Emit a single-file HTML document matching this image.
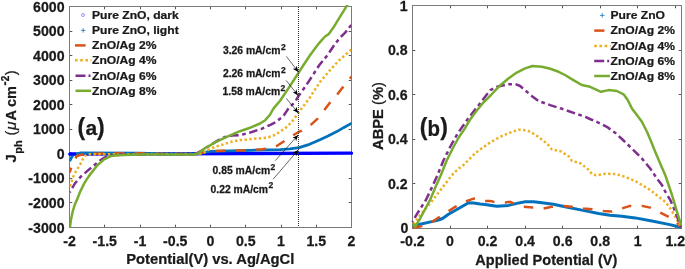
<!DOCTYPE html>
<html><head><meta charset="utf-8"><title>chart</title><style>
html,body{margin:0;padding:0;background:#fff;width:685px;height:269px;overflow:hidden;}
svg{display:block;will-change:transform;filter:blur(0.35px);}
text{font-family:"Liberation Sans", sans-serif;font-weight:bold;fill:#1a1a1a;stroke:#1a1a1a;stroke-width:0.25px;}
.tk{font-size:14px;}
.lab{font-size:14.5px;}
.lg{font-size:11.4px;}
.an{font-size:10px;}
.pl{font-size:23px;}
</style></head><body>
<svg width="685" height="269" viewBox="0 0 685 269">
<rect width="685" height="269" fill="#fff"/>
<defs>
<clipPath id="cl"><rect x="69.5" y="5.0" width="282.0" height="222.5"/></clipPath>
<clipPath id="cr"><rect x="411.5" y="5.5" width="270.5" height="224.0"/></clipPath>
<marker id="ah" markerUnits="userSpaceOnUse" viewBox="0 0 6 5" refX="6" refY="2.5" markerWidth="6" markerHeight="5" orient="auto"><path d="M0,0 L6,2.5 L0,5 L1.6,2.5 z" fill="#000"/></marker>
</defs>
<line x1="69.5" y1="227.5" x2="69.5" y2="224.7" stroke="#555" stroke-width="1"/>
<line x1="69.5" y1="6.5" x2="69.5" y2="9.3" stroke="#555" stroke-width="1"/>
<text class="tk" transform="translate(69.50,246.20) scale(1.012,1)" text-anchor="middle">-2</text>
<line x1="104.5" y1="227.5" x2="104.5" y2="224.7" stroke="#555" stroke-width="1"/>
<line x1="104.5" y1="6.5" x2="104.5" y2="9.3" stroke="#555" stroke-width="1"/>
<text class="tk" transform="translate(104.75,246.20) scale(1.012,1)" text-anchor="middle">-1.5</text>
<line x1="140.5" y1="227.5" x2="140.5" y2="224.7" stroke="#555" stroke-width="1"/>
<line x1="140.5" y1="6.5" x2="140.5" y2="9.3" stroke="#555" stroke-width="1"/>
<text class="tk" transform="translate(140.00,246.20) scale(1.012,1)" text-anchor="middle">-1</text>
<line x1="175.5" y1="227.5" x2="175.5" y2="224.7" stroke="#555" stroke-width="1"/>
<line x1="175.5" y1="6.5" x2="175.5" y2="9.3" stroke="#555" stroke-width="1"/>
<text class="tk" transform="translate(175.25,246.20) scale(1.012,1)" text-anchor="middle">-0.5</text>
<line x1="210.5" y1="227.5" x2="210.5" y2="224.7" stroke="#555" stroke-width="1"/>
<line x1="210.5" y1="6.5" x2="210.5" y2="9.3" stroke="#555" stroke-width="1"/>
<text class="tk" transform="translate(210.50,246.20) scale(1.012,1)" text-anchor="middle">0</text>
<line x1="245.5" y1="227.5" x2="245.5" y2="224.7" stroke="#555" stroke-width="1"/>
<line x1="245.5" y1="6.5" x2="245.5" y2="9.3" stroke="#555" stroke-width="1"/>
<text class="tk" transform="translate(245.75,246.20) scale(1.012,1)" text-anchor="middle">0.5</text>
<line x1="281.5" y1="227.5" x2="281.5" y2="224.7" stroke="#555" stroke-width="1"/>
<line x1="281.5" y1="6.5" x2="281.5" y2="9.3" stroke="#555" stroke-width="1"/>
<text class="tk" transform="translate(281.00,246.20) scale(1.012,1)" text-anchor="middle">1</text>
<line x1="316.5" y1="227.5" x2="316.5" y2="224.7" stroke="#555" stroke-width="1"/>
<line x1="316.5" y1="6.5" x2="316.5" y2="9.3" stroke="#555" stroke-width="1"/>
<text class="tk" transform="translate(316.25,246.20) scale(1.012,1)" text-anchor="middle">1.5</text>
<line x1="351.5" y1="227.5" x2="351.5" y2="224.7" stroke="#555" stroke-width="1"/>
<line x1="351.5" y1="6.5" x2="351.5" y2="9.3" stroke="#555" stroke-width="1"/>
<text class="tk" transform="translate(351.50,246.20) scale(1.012,1)" text-anchor="middle">2</text>
<line x1="69.5" y1="227.5" x2="72.3" y2="227.5" stroke="#555" stroke-width="1"/>
<line x1="351.5" y1="227.5" x2="348.7" y2="227.5" stroke="#555" stroke-width="1"/>
<text class="tk" transform="translate(64.60,232.50) scale(1.012,1)" text-anchor="end">-3000</text>
<line x1="69.5" y1="202.5" x2="72.3" y2="202.5" stroke="#555" stroke-width="1"/>
<line x1="351.5" y1="202.5" x2="348.7" y2="202.5" stroke="#555" stroke-width="1"/>
<text class="tk" transform="translate(64.60,207.94) scale(1.012,1)" text-anchor="end">-2000</text>
<line x1="69.5" y1="178.5" x2="72.3" y2="178.5" stroke="#555" stroke-width="1"/>
<line x1="351.5" y1="178.5" x2="348.7" y2="178.5" stroke="#555" stroke-width="1"/>
<text class="tk" transform="translate(64.60,183.39) scale(1.012,1)" text-anchor="end">-1000</text>
<line x1="69.5" y1="153.5" x2="72.3" y2="153.5" stroke="#555" stroke-width="1"/>
<line x1="351.5" y1="153.5" x2="348.7" y2="153.5" stroke="#555" stroke-width="1"/>
<text class="tk" transform="translate(64.60,158.83) scale(1.012,1)" text-anchor="end">0</text>
<line x1="69.5" y1="129.5" x2="72.3" y2="129.5" stroke="#555" stroke-width="1"/>
<line x1="351.5" y1="129.5" x2="348.7" y2="129.5" stroke="#555" stroke-width="1"/>
<text class="tk" transform="translate(64.60,134.28) scale(1.012,1)" text-anchor="end">1000</text>
<line x1="69.5" y1="104.5" x2="72.3" y2="104.5" stroke="#555" stroke-width="1"/>
<line x1="351.5" y1="104.5" x2="348.7" y2="104.5" stroke="#555" stroke-width="1"/>
<text class="tk" transform="translate(64.60,109.72) scale(1.012,1)" text-anchor="end">2000</text>
<line x1="69.5" y1="80.5" x2="72.3" y2="80.5" stroke="#555" stroke-width="1"/>
<line x1="351.5" y1="80.5" x2="348.7" y2="80.5" stroke="#555" stroke-width="1"/>
<text class="tk" transform="translate(64.60,85.17) scale(1.012,1)" text-anchor="end">3000</text>
<line x1="69.5" y1="55.5" x2="72.3" y2="55.5" stroke="#555" stroke-width="1"/>
<line x1="351.5" y1="55.5" x2="348.7" y2="55.5" stroke="#555" stroke-width="1"/>
<text class="tk" transform="translate(64.60,60.61) scale(1.012,1)" text-anchor="end">4000</text>
<line x1="69.5" y1="31.5" x2="72.3" y2="31.5" stroke="#555" stroke-width="1"/>
<line x1="351.5" y1="31.5" x2="348.7" y2="31.5" stroke="#555" stroke-width="1"/>
<text class="tk" transform="translate(64.60,36.06) scale(1.012,1)" text-anchor="end">5000</text>
<line x1="69.5" y1="6.5" x2="72.3" y2="6.5" stroke="#555" stroke-width="1"/>
<line x1="351.5" y1="6.5" x2="348.7" y2="6.5" stroke="#555" stroke-width="1"/>
<text class="tk" transform="translate(64.60,11.50) scale(1.012,1)" text-anchor="end">6000</text>
<rect x="69.5" y="6.5" width="282.0" height="221.0" fill="none" stroke="#7a7a7a" stroke-width="1"/>
<text class="lab" transform="translate(210.30,264.40) scale(1.017,1)" text-anchor="middle">Potential(V) vs. Ag/AgCl</text>
<text transform="translate(16.20,0) rotate(-90)" x="-162.40" y="0.00" style="font-size:15.00px;">J</text>
<text transform="translate(16.20,0) rotate(-90)" x="-153.80" y="5.40" style="font-size:11.00px;">ph</text>
<text transform="translate(16.20,0) rotate(-90)" x="-135.60" y="0.00" style="font-size:14.50px;font-weight:normal">(</text>
<text transform="translate(16.20,0) rotate(-90)" x="-130.00" y="0.00" style="font-size:15.50px;font-weight:normal;font-style:italic">&#956;</text>
<text transform="translate(16.20,0) rotate(-90)" x="-120.50" y="0.00" style="font-size:14.50px;">A</text>
<text transform="translate(16.20,0) rotate(-90)" x="-107.00" y="0.00" style="font-size:14.50px;">cm</text>
<text transform="translate(16.20,0) rotate(-90)" x="-85.60" y="-7.00" style="font-size:12.00px;">-</text>
<text transform="translate(16.20,0) rotate(-90)" x="-81.30" y="-7.00" style="font-size:10.00px;">2</text>
<text transform="translate(16.20,0) rotate(-90)" x="-75.20" y="0.00" style="font-size:14.50px;font-weight:normal">)</text>
<g clip-path="url(#cl)" fill="none" stroke-linejoin="round">
</g>
<polyline points="69.8,154.1 150.0,153.8 250.0,153.5 351.5,153.2" fill="none" stroke="#0000FF" stroke-width="3.3" stroke-linecap="round"/>
<g clip-path="url(#cl)" fill="none" stroke-linejoin="round">
<polyline points="69.7,161.2 71.5,157.5 73.5,154.5 80.0,153.0 140.0,153.2 165.0,154.0 195.0,154.0 203.0,152.6 210.0,151.4 250.0,150.3 280.0,149.6 290.0,148.8 299.0,147.6 309.5,144.3 320.0,139.7 328.0,136.0 336.8,131.6 344.0,127.4 352.7,122.6" stroke="#0072BD" stroke-width="2.8"/>
</g>
<path d="M68.6,154 C68.6,152.4 70.5,152.3 72.5,152.4 L76,152.6 L76,155.2 L72.5,155.5 C70.5,155.6 68.6,155.5 68.6,154 z" fill="#0000FF"/>
<g clip-path="url(#cl)" fill="none" stroke-linejoin="round">
<polyline points="69.5,172.6 72.5,164.3 76.7,156.0 85.1,153.8 140.0,153.2 165.0,154.0 195.0,154.0 203.0,152.4 212.0,151.0 245.0,150.4 262.0,149.3 270.0,148.3 276.3,146.3 284.7,140.8 293.2,135.2 298.2,132.2 301.7,130.6 310.8,124.8 317.9,118.3 324.3,110.0 330.1,102.5 336.8,95.1 342.6,87.6 350.2,78.4 352.5,75.6" stroke="#D95319" stroke-width="2.5" stroke-dasharray="10 10.3" stroke-dashoffset="4.8"/>
<polyline points="70.0,186.5 73.2,176.8 75.7,171.7 79.9,165.0 82.4,160.0 84.9,155.8 88.0,154.3 195.0,154.0 201.8,153.6 208.9,149.6 216.1,146.5 224.2,144.2 232.4,141.5 240.0,140.1 256.7,138.5 262.6,138.2 267.8,137.4 273.0,135.8 277.6,133.2 281.5,130.6 285.4,128.0 289.3,124.4 292.6,120.9 295.5,116.8 298.3,113.0 304.8,104.3 309.2,98.5 320.1,81.8 330.1,70.1 338.5,60.9 345.2,55.0 352.5,48.5" stroke="#EDB120" stroke-width="2.5" stroke-dasharray="2.4 2.4"/>
<polyline points="69.8,192.5 74.9,183.5 80.7,176.8 87.4,170.9 93.3,165.9 100.0,160.5 104.1,157.7 110.0,155.9 120.0,154.6 195.0,154.2 201.8,150.5 210.1,145.2 218.5,140.1 225.2,137.0 232.0,135.6 240.0,135.1 248.4,133.1 262.0,128.7 270.4,124.8 275.6,122.2 281.5,117.6 284.1,115.0 288.5,108.4 295.2,101.7 298.3,96.3 305.2,86.8 311.8,76.7 319.4,65.0 327.6,55.0 334.3,45.0 340.1,37.6 345.2,32.6 349.8,26.8 352.5,23.5" stroke="#7E2F8E" stroke-width="2.5" stroke-dasharray="8.7 3.5 3.7 3.6" stroke-dashoffset="-4.9"/>
<polyline points="69.9,227.5 71.0,219.5 72.7,211.5 74.7,204.8 77.2,199.2 80.0,192.0 84.1,183.6 87.3,178.4 90.8,173.6 97.4,165.3 104.1,159.4 110.8,156.1 115.3,155.6 123.6,154.9 140.0,154.6 195.6,154.4 200.0,152.0 205.9,147.6 210.1,145.4 216.1,141.8 226.3,137.2 235.3,133.2 240.0,131.2 250.0,127.8 260.0,123.5 265.2,120.2 269.8,115.0 273.4,108.6 280.1,100.8 288.4,88.4 297.6,74.2 303.5,65.0 310.2,55.0 317.6,45.0 321.7,40.1 325.1,36.5 328.8,33.9 333.4,27.6 340.1,16.7 346.8,5.9 348.0,4.0" stroke="#77AC30" stroke-width="2.5"/>
</g>
<line x1="298.5" y1="7" x2="298.5" y2="227" stroke="#333" stroke-width="1" stroke-dasharray="1 1"/>
<text class="an" transform="translate(222.90,53.70) scale(1.036,1)">3.26 mA/cm</text>
<text class="an" transform="translate(280.90,49.50)" style="font-size:8.5px">2</text>
<line x1="286.4" y1="56.4" x2="298.4" y2="72.0" stroke="#000" stroke-width="0.6" marker-end="url(#ah)"/>
<text class="an" transform="translate(222.90,77.30) scale(1.036,1)">2.26 mA/cm</text>
<text class="an" transform="translate(280.90,73.10)" style="font-size:8.5px">2</text>
<line x1="286.1" y1="80.4" x2="298.1" y2="95.4" stroke="#000" stroke-width="0.6" marker-end="url(#ah)"/>
<text class="an" transform="translate(222.60,94.80) scale(1.036,1)">1.58 mA/cm</text>
<text class="an" transform="translate(280.60,90.60)" style="font-size:8.5px">2</text>
<line x1="286.2" y1="98.2" x2="298.3" y2="113.0" stroke="#000" stroke-width="0.6" marker-end="url(#ah)"/>
<text class="an" transform="translate(212.60,173.70) scale(1.036,1)">0.85 mA/cm</text>
<text class="an" transform="translate(270.60,169.50)" style="font-size:8.5px">2</text>
<line x1="275.2" y1="160.7" x2="298.2" y2="135.0" stroke="#000" stroke-width="0.6" marker-end="url(#ah)"/>
<text class="an" transform="translate(210.50,192.60) scale(1.036,1)">0.22 mA/cm</text>
<text class="an" transform="translate(268.50,188.40)" style="font-size:8.5px">2</text>
<line x1="273.2" y1="179.1" x2="298.2" y2="150.0" stroke="#000" stroke-width="0.6" marker-end="url(#ah)"/>
<text class="pl" x="77.5" y="135.2">(</text><text class="pl" x="85.4" y="135.2" style="font-size:21px">a</text><text class="pl" x="97.0" y="135.2">)</text>
<text class="lg" transform="translate(92.00,18.80) scale(1.061,1)">Pure ZnO, dark</text>
<circle cx="83" cy="15.0" r="1.5" fill="none" stroke="#6a6aff" stroke-width="0.7"/>
<text class="lg" transform="translate(92.00,33.90) scale(1.061,1)">Pure ZnO, light</text>
<path d="M80.9,30.4h4.6M83.2,28.1v4.6" stroke="#0072BD" stroke-width="0.75"/>
<text class="lg" transform="translate(92.00,49.20) scale(1.061,1)">ZnO/Ag 2%</text>
<line x1="75" y1="45.4" x2="85.6" y2="45.4" stroke="#D95319" stroke-width="2.5"/>
<text class="lg" transform="translate(92.00,64.00) scale(1.061,1)">ZnO/Ag 4%</text>
<line x1="75" y1="60.2" x2="91.4" y2="60.2" stroke="#EDB120" stroke-width="2.5" stroke-dasharray="2.6 2.6"/>
<text class="lg" transform="translate(92.00,79.50) scale(1.061,1)">ZnO/Ag 6%</text>
<line x1="75.5" y1="75.7" x2="91" y2="75.7" stroke="#7E2F8E" stroke-width="2.5" stroke-dasharray="10 3 2 3"/>
<text class="lg" transform="translate(92.00,94.60) scale(1.061,1)">ZnO/Ag 8%</text>
<line x1="75.5" y1="90.8" x2="91" y2="90.8" stroke="#77AC30" stroke-width="2.5"/>
<text class="tk" transform="translate(412.50,246.20) scale(1.012,1)" text-anchor="middle">-0.2</text>
<line x1="450.5" y1="228.5" x2="450.5" y2="225.7" stroke="#555" stroke-width="1"/>
<line x1="450.5" y1="5.5" x2="450.5" y2="8.3" stroke="#555" stroke-width="1"/>
<text class="tk" transform="translate(450.04,246.20) scale(1.012,1)" text-anchor="middle">0</text>
<line x1="487.5" y1="228.5" x2="487.5" y2="225.7" stroke="#555" stroke-width="1"/>
<line x1="487.5" y1="5.5" x2="487.5" y2="8.3" stroke="#555" stroke-width="1"/>
<text class="tk" transform="translate(487.58,246.20) scale(1.012,1)" text-anchor="middle">0.2</text>
<line x1="525.5" y1="228.5" x2="525.5" y2="225.7" stroke="#555" stroke-width="1"/>
<line x1="525.5" y1="5.5" x2="525.5" y2="8.3" stroke="#555" stroke-width="1"/>
<text class="tk" transform="translate(525.12,246.20) scale(1.012,1)" text-anchor="middle">0.4</text>
<line x1="562.5" y1="228.5" x2="562.5" y2="225.7" stroke="#555" stroke-width="1"/>
<line x1="562.5" y1="5.5" x2="562.5" y2="8.3" stroke="#555" stroke-width="1"/>
<text class="tk" transform="translate(562.66,246.20) scale(1.012,1)" text-anchor="middle">0.6</text>
<line x1="600.5" y1="228.5" x2="600.5" y2="225.7" stroke="#555" stroke-width="1"/>
<line x1="600.5" y1="5.5" x2="600.5" y2="8.3" stroke="#555" stroke-width="1"/>
<text class="tk" transform="translate(600.20,246.20) scale(1.012,1)" text-anchor="middle">0.8</text>
<line x1="637.5" y1="228.5" x2="637.5" y2="225.7" stroke="#555" stroke-width="1"/>
<line x1="637.5" y1="5.5" x2="637.5" y2="8.3" stroke="#555" stroke-width="1"/>
<text class="tk" transform="translate(637.74,246.20) scale(1.012,1)" text-anchor="middle">1</text>
<line x1="675.5" y1="228.5" x2="675.5" y2="225.7" stroke="#555" stroke-width="1"/>
<line x1="675.5" y1="5.5" x2="675.5" y2="8.3" stroke="#555" stroke-width="1"/>
<text class="tk" transform="translate(675.28,246.20) scale(1.012,1)" text-anchor="middle">1.2</text>
<line x1="412.5" y1="228.5" x2="415.3" y2="228.5" stroke="#555" stroke-width="1"/>
<line x1="681.5" y1="228.5" x2="678.7" y2="228.5" stroke="#555" stroke-width="1"/>
<text class="tk" transform="translate(408.30,232.50) scale(1.012,1)" text-anchor="end">0</text>
<line x1="412.5" y1="183.5" x2="415.3" y2="183.5" stroke="#555" stroke-width="1"/>
<line x1="681.5" y1="183.5" x2="678.7" y2="183.5" stroke="#555" stroke-width="1"/>
<text class="tk" transform="translate(407.60,188.90) scale(1.012,1)" text-anchor="end">0.2</text>
<line x1="412.5" y1="139.5" x2="415.3" y2="139.5" stroke="#555" stroke-width="1"/>
<line x1="681.5" y1="139.5" x2="678.7" y2="139.5" stroke="#555" stroke-width="1"/>
<text class="tk" transform="translate(407.60,144.30) scale(1.012,1)" text-anchor="end">0.4</text>
<line x1="412.5" y1="94.5" x2="415.3" y2="94.5" stroke="#555" stroke-width="1"/>
<line x1="681.5" y1="94.5" x2="678.7" y2="94.5" stroke="#555" stroke-width="1"/>
<text class="tk" transform="translate(407.60,99.70) scale(1.012,1)" text-anchor="end">0.6</text>
<line x1="412.5" y1="50.5" x2="415.3" y2="50.5" stroke="#555" stroke-width="1"/>
<line x1="681.5" y1="50.5" x2="678.7" y2="50.5" stroke="#555" stroke-width="1"/>
<text class="tk" transform="translate(407.60,55.10) scale(1.012,1)" text-anchor="end">0.8</text>
<line x1="412.5" y1="5.5" x2="415.3" y2="5.5" stroke="#555" stroke-width="1"/>
<line x1="681.5" y1="5.5" x2="678.7" y2="5.5" stroke="#555" stroke-width="1"/>
<text class="tk" transform="translate(407.60,10.50) scale(1.012,1)" text-anchor="end">1</text>
<rect x="412.5" y="5.5" width="269.0" height="223.0" fill="none" stroke="#7a7a7a" stroke-width="1"/>
<text class="lab" transform="translate(546.30,264.50) scale(1.002,1)" text-anchor="middle">Applied Potential (V)</text>
<text class="lab" transform="translate(382.6,116.0) rotate(-90) scale(1.015,1)" text-anchor="middle">ABPE <tspan style="font-weight:normal">(</tspan>%<tspan style="font-weight:normal">)</tspan></text>
<g clip-path="url(#cr)" fill="none" stroke-linejoin="round">
<polyline points="412.5,225.4 420.0,224.2 431.8,221.6 438.5,220.0 442.5,218.5 448.5,214.3 458.6,208.5 468.6,202.8 473.7,203.1 480.0,204.1 485.0,204.4 496.8,206.3 508.5,205.4 516.9,203.4 525.3,201.8 533.6,201.8 540.0,202.6 553.4,204.3 565.1,206.8 581.9,210.1 598.6,213.5 610.0,215.2 621.8,216.2 635.2,217.9 651.9,221.0 668.7,224.4 681.0,227.3" stroke="#0072BD" stroke-width="3"/>
<polyline points="412.6,228.0 421.1,226.2 431.8,222.0 439.0,217.3 450.2,210.1 455.2,206.8 467.0,200.9 473.7,198.6 480.0,199.8 485.0,200.9 490.0,200.9 493.4,201.8 505.2,202.6 510.2,201.8 513.5,203.4 523.6,206.8 532.8,207.6 543.5,208.5 551.7,206.8 563.5,205.9 571.8,206.8 583.6,208.5 592.0,209.3 603.7,211.0 611.7,211.6 621.8,208.5 630.1,205.9 641.9,205.9 650.2,207.6 660.3,212.6 668.7,216.8 675.4,221.0 681.0,227.5" stroke="#D95319" stroke-width="2.5" stroke-dasharray="9.5 10.4" stroke-dashoffset="-0.4"/>
<polyline points="413.5,224.5 419.9,215.5 431.8,201.2 444.0,185.5 448.0,180.2 453.4,173.5 458.6,168.6 463.4,165.1 468.6,160.0 475.0,153.4 480.0,149.6 490.0,142.6 500.1,136.8 510.2,132.6 518.5,129.7 523.6,130.0 530.3,131.7 537.0,135.9 543.7,140.9 548.4,145.0 551.7,149.3 560.9,151.4 569.3,156.8 571.8,160.8 581.0,163.5 588.6,169.8 591.9,174.0 596.1,175.3 605.3,173.8 615.4,174.0 625.0,176.8 635.1,181.0 641.9,185.0 650.2,190.0 658.6,196.7 665.3,201.8 670.3,208.5 675.4,216.8 679.5,224.4 681.0,227.8" stroke="#EDB120" stroke-width="2.5" stroke-dasharray="2.4 2.4"/>
<polyline points="412.2,222.0 417.5,213.1 425.9,200.0 432.6,186.0 437.5,175.0 443.4,160.5 450.1,147.0 456.5,135.5 460.0,130.1 466.7,120.5 473.4,111.7 480.1,103.4 486.0,95.5 490.3,90.2 497.0,86.8 503.7,85.2 508.0,84.3 515.1,84.0 520.1,86.0 525.1,90.2 531.7,95.9 538.4,100.9 550.1,105.1 563.5,109.3 575.3,113.5 585.3,116.8 590.0,119.0 598.4,122.6 606.8,126.8 615.1,132.7 622.5,139.5 631.8,148.4 641.8,158.4 650.2,168.5 656.9,178.5 661.9,185.0 665.3,191.7 670.3,200.1 675.4,211.8 679.5,223.5 681.0,227.5" stroke="#7E2F8E" stroke-width="2.5" stroke-dasharray="8.7 3.5 3.7 3.6" stroke-dashoffset="-4.8"/>
<polyline points="412.8,223.5 415.1,226.6 419.9,219.0 430.0,200.0 436.4,185.0 440.9,175.0 446.7,160.5 453.4,147.0 459.0,137.0 464.0,129.8 470.1,119.5 476.8,110.5 483.4,102.5 491.0,95.0 498.6,86.8 508.4,78.5 516.8,72.6 525.1,68.4 532.5,66.0 541.9,66.8 550.3,68.8 558.6,71.8 565.0,75.0 573.4,80.1 581.8,85.0 590.1,86.8 601.0,91.8 608.6,90.1 616.9,91.0 623.6,94.3 627.7,100.0 631.9,108.4 636.9,115.1 641.9,121.8 647.0,131.8 650.7,140.5 655.2,151.7 660.2,163.5 665.3,175.2 668.6,185.0 672.0,195.0 677.0,211.8 681.2,225.5" stroke="#77AC30" stroke-width="2.5"/>
</g>
<text class="pl" x="419.7" y="135.4">(</text><text class="pl" transform="translate(427.4,135.6) scale(0.93,1)" style="font-size:22px">b</text><text class="pl" x="440.2" y="135.4">)</text>
<text class="lg" transform="translate(610.50,19.20) scale(1.061,1)">Pure ZnO</text>
<path d="M599.9,15.4h4.6M602.2,13.1v4.6" stroke="#0072BD" stroke-width="0.75"/>
<text class="lg" transform="translate(610.50,34.40) scale(1.061,1)">ZnO/Ag 2%</text>
<line x1="594.2" y1="30.6" x2="604.4" y2="30.6" stroke="#D95319" stroke-width="2.5"/>
<text class="lg" transform="translate(610.50,49.90) scale(1.061,1)">ZnO/Ag 4%</text>
<line x1="594.2" y1="46.1" x2="610.5" y2="46.1" stroke="#EDB120" stroke-width="2.5" stroke-dasharray="2.6 2.6"/>
<text class="lg" transform="translate(610.50,64.80) scale(1.061,1)">ZnO/Ag 6%</text>
<line x1="594.2" y1="61.0" x2="610" y2="61.0" stroke="#7E2F8E" stroke-width="2.5" stroke-dasharray="10 3 2 3"/>
<text class="lg" transform="translate(610.50,79.80) scale(1.061,1)">ZnO/Ag 8%</text>
<line x1="594.2" y1="76.0" x2="610" y2="76.0" stroke="#77AC30" stroke-width="2.5"/>
</svg>
</body></html>
